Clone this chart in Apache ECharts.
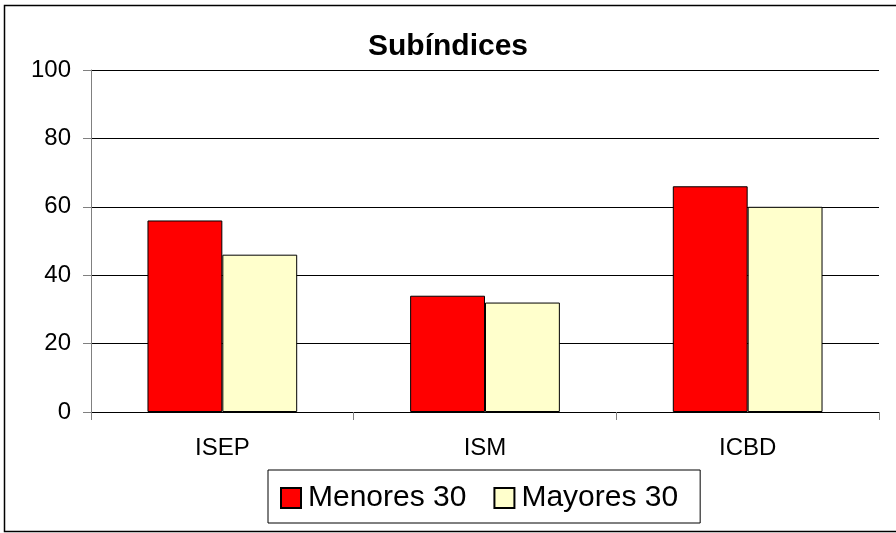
<!DOCTYPE html>
<html>
<head>
<meta charset="utf-8">
<script src="https://cdn.jsdelivr.net/npm/echarts@6/dist/echarts.min.js"></script>
<style>
  html, body { margin: 0; padding: 0; background: #fff; }
  #chart { width: 896px; height: 533px; }
</style>
</head>
<body>
<div id="chart"></div>
<script>
var categories = ['ISEP', 'ISM', 'ICBD'];
var menores30 = [56, 34, 66];
var mayores30 = [46, 32, 60];
var yTicks = { min: 0, max: 100, interval: 20 };

var chart = echarts.init(document.getElementById('chart'));
var font = '"Liberation Sans", Arial, sans-serif';

chart.setOption({
  animation: false,
  backgroundColor: '#fff',
  textStyle: { fontFamily: font },
  graphic: [{
    type: 'rect',
    shape: { x: 4.5, y: 5.5, width: 900, height: 526 },
    style: { fill: 'none', stroke: '#000', lineWidth: 1.5 },
    silent: true
  }],
  title: {
    text: 'Subíndices',
    left: 'center',
    top: 27,
    textStyle: { fontFamily: font, fontSize: 30, fontWeight: 'bold', color: '#000' }
  },
  legend: {
    left: 268,
    top: 470,
    padding: [13, 22, 10, 12],
    itemGap: 27,
    itemWidth: 20,
    itemHeight: 20,
    icon: 'rect',
    borderColor: '#000',
    borderWidth: 1,
    textStyle: { fontFamily: font, fontSize: 30, color: '#000', padding: [0, 0, 0, 2] },
    data: ['Menores 30', 'Mayores 30']
  },
  grid: { left: 91, right: 17, top: 70, bottom: 121, containLabel: false },
  xAxis: {
    type: 'category',
    data: categories,
    boundaryGap: true,
    axisLine: { lineStyle: { color: '#000', width: 1 } },
    axisTick: { show: true, length: 8, inside: false, lineStyle: { color: '#808080' } },
    axisLabel: { fontFamily: font, fontSize: 24, color: '#000', margin: 24 }
  },
  yAxis: {
    type: 'value',
    min: yTicks.min,
    max: yTicks.max,
    interval: yTicks.interval,
    axisLine: { show: true, lineStyle: { color: '#808080', width: 1 } },
    axisTick: { show: true, length: 8, inside: false, lineStyle: { color: '#808080' } },
    axisLabel: { fontFamily: font, fontSize: 24, color: '#000', margin: 20 },
    splitLine: { show: true, lineStyle: { color: '#000', width: 1 } }
  },
  series: [{
    name: 'Menores 30',
    type: 'bar',
    data: menores30,
    barGap: '0%',
    barCategoryGap: '43%',
    itemStyle: { color: '#FF0000', borderColor: '#000', borderWidth: 1 }
  }, {
    name: 'Mayores 30',
    type: 'bar',
    data: mayores30,
    itemStyle: { color: '#FFFFCC', borderColor: '#000', borderWidth: 1 }
  }]
});

window.addEventListener('resize', function() {
  chart.resize();
});
</script>
</body>
</html>
